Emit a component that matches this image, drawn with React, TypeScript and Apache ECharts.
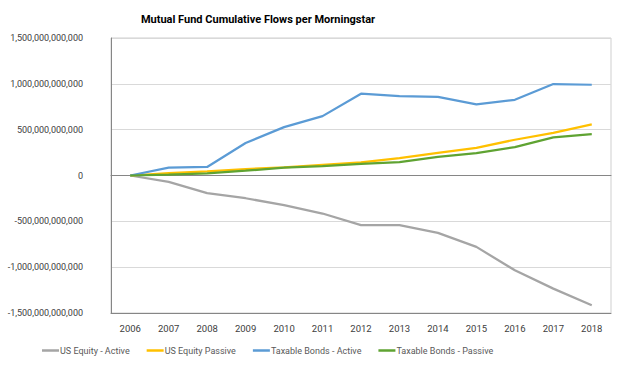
import React, { useEffect, useRef } from "react";
import * as echarts from "echarts";

const years = ["2006","2007","2008","2009","2010","2011","2012","2013","2014","2015","2016","2017","2018"];
const usEquityActive = [0, -69e9, -193e9, -248e9, -324e9, -415e9, -542e9, -542e9, -626e9, -779e9, -1034e9, -1234e9, -1416e9];
const usEquityPassive = [0, 25e9, 45e9, 70e9, 88e9, 115e9, 142e9, 189e9, 248e9, 302e9, 390e9, 466e9, 557e9];
const taxableBondsActive = [0, 87e9, 93e9, 354e9, 528e9, 648e9, 892e9, 866e9, 858e9, 777e9, 826e9, 998e9, 990e9];
const taxableBondsPassive = [0, 10e9, 22e9, 52e9, 85e9, 102e9, 126e9, 146e9, 204e9, 245e9, 310e9, 415e9, 452e9];
const seriesNames = ["US Equity - Active", "US Equity Passive", "Taxable Bonds - Active", "Taxable Bonds - Passive"];
const colors = ["#A5A5A5", "#FFC000", "#5B9BD5", "#5FA332"];

export default function App() {
  const ref = useRef<HTMLDivElement>(null);
  useEffect(() => {
    const chart = echarts.init(ref.current!, undefined, { renderer: "svg" });
    const font = "Roboto";
    const data = [usEquityActive, usEquityPassive, taxableBondsActive, taxableBondsPassive];
    chart.setOption({
      animation: false,
      textStyle: { fontFamily: font },
      title: {
        text: "Mutual Fund Cumulative Flows per Morningstar",
        left: 253, top: 9, textAlign: "center",
        textStyle: { fontFamily: font, fontSize: 11, fontWeight: "bold", color: "#000" },
      },
      grid: {
        left: 111, right: 29, top: 38, bottom: 78, show: true,
        borderColor: "#cfcfcf", borderWidth: 1, outerBoundsMode: "none", containLabel: false,
      },
      legend: {
        data: seriesNames, bottom: 31, left: 37, itemGap: 17,
        icon: "rect", itemWidth: 17, itemHeight: 2.5,
        textStyle: { fontFamily: font, fontSize: 9, color: "#595959", padding: [0, 0, 0, -4] },
      },
      xAxis: [
        {
          type: "category", data: years, position: "bottom",
          axisLine: { onZero: false, lineStyle: { color: "#868686" } },
          axisTick: { show: false },
          axisLabel: { fontFamily: font, fontSize: 9.5, color: "#404040", margin: 10 },
        },
        {
          type: "category", data: years, position: "bottom",
          axisLine: { onZero: true, lineStyle: { color: "#868686" } },
          axisTick: { show: false }, axisLabel: { show: false },
        },
      ],
      yAxis: {
        type: "value", min: -1.5e12, max: 1.5e12, interval: 5e11,
        axisLine: { show: true, lineStyle: { color: "#868686" } },
        axisTick: { show: false },
        splitLine: { lineStyle: { color: "#d9d9d9" } },
        axisLabel: {
          fontFamily: font, fontSize: 9, color: "#404040", margin: 28,
          formatter: (v: number) => v.toLocaleString("en-US"),
        },
      },
      series: seriesNames.map((name, i) => ({
        name, type: "line", data: data[i], xAxisIndex: 0,
        showSymbol: false, symbol: "none",
        lineStyle: { color: colors[i], width: 2.25 }, itemStyle: { color: colors[i] },
      })),
    });
    return () => chart.dispose();
  }, []);
  return <div ref={ref} style={{ width: 640, height: 391, position: "absolute", left: 0, top: 0 }} />;
}
